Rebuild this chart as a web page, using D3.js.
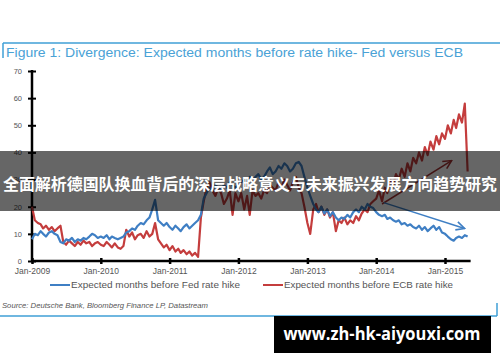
<!DOCTYPE html>
<html>
<head>
<meta charset="utf-8">
<script src="https://cdn.jsdelivr.net/npm/d3@7"></script>
<style>
  body { margin: 0; background: #fff; }
  svg { display: block; }
</style>
</head>
<body>
<svg id="chart" width="500" height="362"></svg>
<script>
// expected months before first hike, sampled twice a month from Jan-2009
const fedMonths = [
    8, 10, 9.5, 11, 10, 9, 10.5, 11, 10, 9.5, 7, 6.5, 8, 7.5, 8.5, 7, 8, 7.5, 8.5, 8, 9, 10, 9.5, 8.5,       // 2009
    9, 8.5, 9.5, 8, 9, 8.5, 8, 8.5, 9, 10.5, 11, 12, 11.5, 13, 14, 13.5, 15, 16, 19, 22.5, 15, 14, 13, 14,   // 2010
    12.5, 11.5, 13, 12, 11, 12.5, 13.5, 12, 13, 14, 15, 17, 23, 25, 27, 26, 28, 27, 26, 28, 27, 29, 28, 27,  // 2011
    28, 29, 30, 29, 31, 30, 31, 32, 30, 31, 33, 34.5, 32, 33, 35, 34, 36, 35, 33, 34, 36, 36.5, 35, 31,      // 2012
    27, 24, 21, 19, 18, 20, 17.5, 19, 16.5, 18, 16, 15, 16, 15.5, 17, 16, 18, 19, 18, 20, 19, 21, 20, 19.5,  // 2013
    18, 17, 16.5, 17, 15.5, 16, 15, 14.5, 15, 13.5, 14, 13, 13.5, 12.5, 12, 13, 11.5, 12.5, 11, 12, 13, 11.5, 12.5, 10.5, // 2014
    10, 9, 8, 7.5, 8.5, 9, 8.5, 9.5, 9                                                                      // 2015
];

const ecbMonths = [
    20, 15, 14, 13.5, 12, 13, 11.5, 12.5, 11, 12, 13, 7, 6, 7.5, 6.5, 5.5, 7, 6, 7.5, 6.5, 7, 5.5, 6.5, 7,    // 2009
    6, 5.5, 7, 6, 5, 6.5, 5, 4.5, 5.5, 11.5, 9, 10.5, 8, 9.5, 10, 8.5, 11, 9, 10, 14, 8, 6.5, 5, 6,           // 2010
    4, 5.5, 3.5, 4.5, 3, 4, 2.5, 3.5, 2, 3, 1.5, 16, 22, 27, 29, 26, 24, 27, 25, 21, 23, 26, 17, 25,          // 2011
    22, 25, 19, 24, 17, 26, 24, 25, 23, 26, 25, 28, 27, 26, 29, 27, 30, 28, 26, 29, 31, 27, 25, 20,           // 2012
    14, 10, 19, 21, 18, 20, 17, 19, 16, 18, 11, 15, 14, 16, 13.5, 15, 14, 16.5, 15, 17.5, 19, 18, 21, 22,     // 2013
    23, 26, 22, 27, 25, 30, 28, 32, 30, 34, 31, 36, 33, 38, 36, 40, 37, 42, 39, 44, 41, 46, 43, 47,           // 2014
    45, 50, 47, 52, 49, 54, 51, 58, 33                                                                        // 2015
];

const yTicks = [0, 10, 20, 30, 40, 50, 60, 70];
const seriesNames = ["Expected months before Fed rate hike", "Expected months before ECB rate hike"];

// the two trend arrows: [start date, start value, end date, end value]
const ecbArrow = [new Date(2014, 1, 1), 21, new Date(2015, 1, 5), 37];
const fedArrow = [new Date(2014, 1, 10), 21.5, new Date(2015, 3, 15), 12];

const titleText = "Figure 1: Divergence: Expected months before rate hike- Fed versus ECB";
const sourceText = "Source: Deutsche Bank, Bloomberg Finance LP, Datastream";
const bannerText = "全面解析德国队换血背后的深层战略意义与未来振兴发展方向趋势研究";
const siteText = "www.zh-hk-aiyouxi.com";

const blue = "#3f7fc4";
const red = "#c43d3d";
const frameBlue = "#3f9fd6";

const dateAt = i => new Date(2009, Math.floor(i / 2), i % 2 ? 16 : 1);
const fedData = fedMonths.map((v, i) => ({ date: dateAt(i), value: v }));
const ecbData = ecbMonths.map((v, i) => ({ date: dateAt(i), value: v }));

const svg = d3.select("#chart");

const x = d3.scaleTime()
    .domain([new Date(2009, 0, 1), new Date(2015, 0, 1)])
    .range([32, 445]);
const y = d3.scaleLinear()
    .domain([0, 70])
    .range([261, 71]);

// frame
svg.append("line").attr("x1", 3).attr("x2", 500).attr("y1", 43).attr("y2", 43)
    .attr("stroke", frameBlue).attr("stroke-width", 1.5);
svg.append("line").attr("x1", 3).attr("x2", 3).attr("y1", 43).attr("y2", 58)
    .attr("stroke", frameBlue).attr("stroke-width", 1.5);
svg.append("line").attr("x1", 0).attr("x2", 497).attr("y1", 316).attr("y2", 316)
    .attr("stroke", frameBlue).attr("stroke-width", 1.5);
svg.append("line").attr("x1", 497).attr("x2", 497).attr("y1", 303).attr("y2", 316)
    .attr("stroke", frameBlue).attr("stroke-width", 1.5);

svg.append("text")
    .attr("x", 6).attr("y", 57)
    .attr("font-family", "Liberation Sans, Arial, sans-serif")
    .attr("font-size", 12)
    .attr("textLength", 457)
    .attr("lengthAdjust", "spacingAndGlyphs")
    .attr("fill", "#4aa2d6")
    .text(titleText);

// y axis
const yAxis = svg.append("g")
    .attr("transform", "translate(32,0)")
    .call(d3.axisLeft(y).tickValues(yTicks).tickSize(4).tickPadding(6).tickSizeOuter(0));
yAxis.select(".domain").remove();
yAxis.selectAll(".tick line").attr("x1", -4).attr("x2", 4).attr("stroke-width", 2);
yAxis.selectAll(".tick text")
    .attr("font-family", "Liberation Sans, Arial, sans-serif")
    .attr("font-size", 7.5).attr("fill", "#555");
svg.append("line")
    .attr("x1", 32).attr("x2", 32).attr("y1", y(70) - 1).attr("y2", y(0) + 1)
    .attr("stroke", "#000").attr("stroke-width", 2.5);

// x axis
const xAxis = svg.append("g")
    .attr("transform", `translate(0,${y(0)})`)
    .call(d3.axisBottom(x).ticks(d3.timeYear.every(1))
        .tickFormat(d3.timeFormat("Jan-%Y")).tickSize(3).tickPadding(4).tickSizeOuter(0));
xAxis.select(".domain").remove();
xAxis.selectAll(".tick line").attr("y1", -3).attr("y2", 3).attr("stroke-width", 2.5);
xAxis.selectAll(".tick text")
    .attr("font-family", "Liberation Sans, Arial, sans-serif")
    .attr("font-size", 8.5).attr("fill", "#555");
svg.append("line")
    .attr("x1", 31).attr("x2", x(fedData[fedData.length - 1].date) + 3)
    .attr("y1", y(0)).attr("y2", y(0))
    .attr("stroke", "#000").attr("stroke-width", 2.5);

// lines
const line = d3.line()
    .x(d => x(d.date))
    .y(d => y(d.value));

svg.append("path")
    .datum(ecbData)
    .attr("d", line)
    .attr("fill", "none")
    .attr("stroke", red)
    .attr("stroke-width", 2.2)
    .attr("stroke-linejoin", "round");

svg.append("path")
    .datum(fedData)
    .attr("d", line)
    .attr("fill", "none")
    .attr("stroke", blue)
    .attr("stroke-width", 2.2)
    .attr("stroke-linejoin", "round");

// arrows
const defs = svg.append("defs");
[["arrow-red", "#a33434"], ["arrow-blue", blue]].forEach(([id, col]) => {
    defs.append("marker")
        .attr("id", id)
        .attr("viewBox", "0 0 10 10")
        .attr("refX", 9).attr("refY", 5)
        .attr("markerWidth", 7).attr("markerHeight", 7)
        .attr("orient", "auto")
        .append("path")
        .attr("d", "M1,1 L9,5 L1,9")
        .attr("fill", "none")
        .attr("stroke", col)
        .attr("stroke-width", 1.5);
});
svg.append("line")
    .attr("x1", x(ecbArrow[0])).attr("y1", y(ecbArrow[1]))
    .attr("x2", x(ecbArrow[2])).attr("y2", y(ecbArrow[3]))
    .attr("stroke", "#a33434").attr("stroke-width", 1.5)
    .attr("marker-end", "url(#arrow-red)");
svg.append("line")
    .attr("x1", x(fedArrow[0])).attr("y1", y(fedArrow[1]))
    .attr("x2", x(fedArrow[2])).attr("y2", y(fedArrow[3]))
    .attr("stroke", blue).attr("stroke-width", 1.5)
    .attr("marker-end", "url(#arrow-blue)");

// legend
const legend = svg.append("g");
[[50, blue, seriesNames[0]], [263, red, seriesNames[1]]].forEach(([lx, col, name]) => {
    legend.append("line")
        .attr("x1", lx).attr("x2", lx + 20).attr("y1", 285).attr("y2", 285)
        .attr("stroke", col).attr("stroke-width", 2);
    legend.append("text")
        .attr("x", lx + 21).attr("y", 288)
        .attr("font-family", "Liberation Sans, Arial, sans-serif")
        .attr("font-size", 8.5)
        .attr("textLength", 169)
        .attr("lengthAdjust", "spacingAndGlyphs")
        .attr("fill", "#555")
        .text(name);
});

svg.append("text")
    .attr("x", 2).attr("y", 308)
    .attr("font-family", "Liberation Sans, Arial, sans-serif")
    .attr("font-size", 6.5)
    .attr("font-style", "italic")
    .attr("textLength", 206)
    .attr("lengthAdjust", "spacingAndGlyphs")
    .attr("fill", "#555")
    .text(sourceText);

// overlay banner
svg.append("rect")
    .attr("x", 0).attr("y", 151).attr("width", 500).attr("height", 60)
    .attr("fill", "#000").attr("fill-opacity", 0.6);
svg.append("text")
    .attr("x", 250).attr("y", 190)
    .attr("text-anchor", "middle")
    .attr("font-family", "Noto Sans CJK SC, sans-serif")
    .attr("font-weight", "bold")
    .attr("font-size", 16)
    .attr("textLength", 494)
    .attr("lengthAdjust", "spacingAndGlyphs")
    .attr("fill", "#fff")
    .text(bannerText);

// site mark
svg.append("rect")
    .attr("x", 274).attr("y", 316).attr("width", 217).attr("height", 37)
    .attr("fill", "#000");
svg.append("text")
    .attr("x", 382).attr("y", 340)
    .attr("text-anchor", "middle")
    .attr("font-family", "Open Sans, DejaVu Sans, sans-serif")
    .attr("font-weight", "bold")
    .attr("font-size", 18)
    .attr("textLength", 197)
    .attr("lengthAdjust", "spacingAndGlyphs")
    .attr("fill", "#fff")
    .text(siteText);
</script>
</body>
</html>
